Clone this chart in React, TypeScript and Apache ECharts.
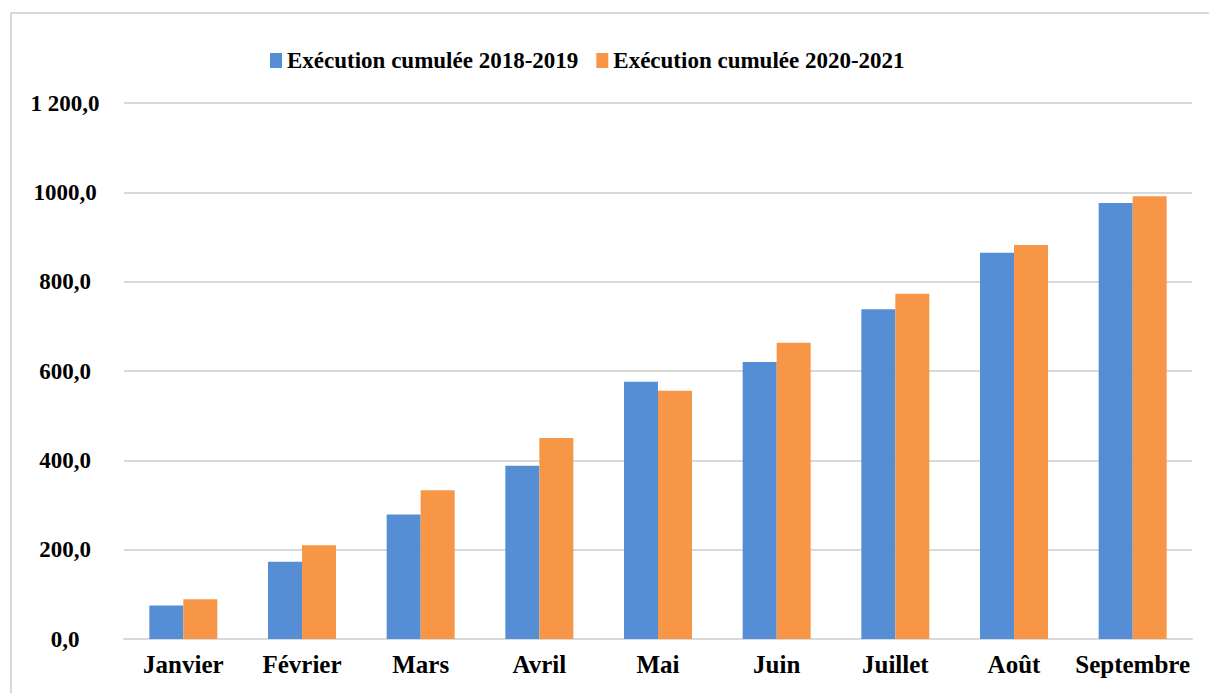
import React, { useEffect, useRef } from "react";
import * as echarts from "echarts";

const categories = ["Janvier", "Février", "Mars", "Avril", "Mai", "Juin", "Juillet", "Août", "Septembre"];
const serie2018 = [75, 173, 279, 388, 576, 620, 738, 865, 976];
const serie2020 = [89, 210, 333, 450, 556, 663, 773, 882, 991];
const seriesNames = ["Exécution cumulée 2018-2019", "Exécution cumulée 2020-2021"];
const tickValues = [0, 200, 400, 600, 800, 1000, 1200];
const tickLabels = ["0,0", "200,0", "400,0", "600,0", "800,0", "1000,0", "1 200,0"];

const FONT = "Liberation Serif, Times New Roman, serif";

export default function App() {
  const ref = useRef<HTMLDivElement>(null);
  useEffect(() => {
    if (!ref.current) return;
    const chart = echarts.init(ref.current, null, { renderer: "svg" });
    chart.setOption({
      animation: false,
      backgroundColor: "#ffffff",
      graphic: [
        {
          type: "rect",
          shape: { x: 11, y: 13, width: 1220, height: 700 },
          style: { fill: "none", stroke: "#d9d9d9", lineWidth: 2 },
          silent: true,
        },
      ],
      legend: {
        left: 265,
        top: 44,
        itemWidth: 12,
        itemHeight: 15,
        itemGap: 18,
        icon: "rect",
        textStyle: { fontFamily: FONT, fontWeight: "bold", fontSize: 23, color: "#000" },
        data: seriesNames,
      },
      grid: { left: 124, right: 17, top: 103, bottom: 54, containLabel: false },
      xAxis: {
        type: "category",
        data: categories,
        axisLine: { show: true, lineStyle: { color: "#d9d9d9", width: 2 } },
        axisTick: { show: false },
        axisLabel: {
          interval: 0,
          margin: 13,
          fontFamily: FONT,
          fontWeight: "bold",
          fontSize: 25,
          color: "#000",
        },
      },
      yAxis: {
        type: "value",
        min: 0,
        max: 1200,
        interval: 200,
        axisLine: { show: false },
        axisTick: { show: false },
        splitLine: { lineStyle: { color: "#d9d9d9", width: 2 } },
        axisLabel: {
          margin: 59,
          align: "center",
          fontFamily: FONT,
          fontWeight: "bold",
          fontSize: 23,
          color: "#000",
          formatter: (v: number) => {
            const i = tickValues.indexOf(v);
            return i >= 0 ? tickLabels[i] : String(v);
          },
        },
      },
      series: [
        {
          name: seriesNames[0],
          type: "bar",
          data: serie2018,
          barWidth: 34,
          barGap: "0%",
          itemStyle: { color: "#558ED5" },
        },
        {
          name: seriesNames[1],
          type: "bar",
          data: serie2020,
          barWidth: 34,
          barGap: "0%",
          itemStyle: { color: "#F79646" },
        },
      ],
    });
    return () => chart.dispose();
  }, []);
  return <div ref={ref} style={{ width: 1209, height: 693, position: "absolute", left: 0, top: 0 }} />;
}
